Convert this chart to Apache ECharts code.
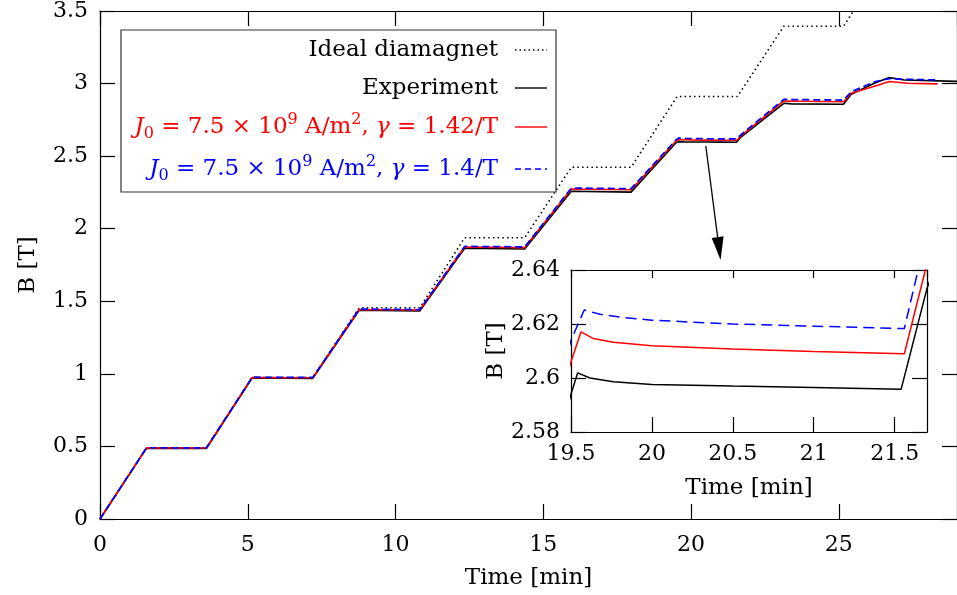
<!DOCTYPE html>
<html>
<head>
<meta charset="utf-8">
<script src="https://cdn.jsdelivr.net/npm/echarts@6/dist/echarts.min.js"></script>
<style>
html,body{margin:0;padding:0;background:#fff;}
#chart{width:957px;height:595px;}
</style>
</head>
<body>
<div id="chart"></div>
<script>
// ---- data ----
const idealT = [0, 1.575, 3.6, 5.15, 7.2, 8.77, 10.82, 12.34, 14.37, 15.95, 17.97, 19.53, 21.57, 23.14, 25.16, 26.71];
const idealB = [0, 0.49, 0.49, 0.975, 0.975, 1.455, 1.455, 1.938, 1.938, 2.423, 2.423, 2.911, 2.911, 3.395, 3.395, 3.88];

const expT = [0, 1.575, 3.6, 5.15, 7.2, 8.77, 10.82, 12.34, 14.37, 15.95, 17.97, 19.5, 19.541, 19.617, 19.761, 20.0, 20.5, 21.0, 21.54, 21.7, 23.14, 23.4, 25.16, 25.42, 26.2, 26.71, 27.22, 29];
const expB = [0, 0.488, 0.486, 0.972, 0.969, 1.438, 1.433, 1.866, 1.860, 2.258, 2.252, 2.594, 2.6019, 2.6000, 2.5986, 2.5976, 2.597, 2.5965, 2.5958, 2.6332, 2.864, 2.860, 2.858, 2.927, 3.002, 3.041, 3.025, 3.015];

const redT = [0, 1.575, 3.6, 5.15, 7.2, 8.77, 10.82, 12.34, 14.37, 15.95, 17.97, 19.5, 19.562, 19.638, 19.761, 20.0, 20.5, 21.0, 21.56, 21.69, 23.14, 25.16, 25.42, 26.32, 26.71, 27.33, 28.34];
const redB = [0, 0.49, 0.489, 0.975, 0.973, 1.443, 1.440, 1.874, 1.870, 2.274, 2.268, 2.606, 2.6171, 2.6146, 2.6132, 2.6119, 2.6107, 2.6098, 2.609, 2.64, 2.880, 2.875, 2.934, 2.989, 3.014, 3.002, 2.998];

const blueT = [0, 1.575, 3.6, 5.15, 7.2, 8.77, 10.82, 12.34, 14.37, 15.95, 17.97, 19.5, 19.582, 19.679, 19.823, 20.0, 20.5, 21.0, 21.56, 21.645, 23.14, 25.16, 25.42, 26.2, 26.71, 27.22, 28.27];
const blueB = [0, 0.491, 0.49, 0.977, 0.975, 1.446, 1.443, 1.878, 1.875, 2.28, 2.276, 2.614, 2.6252, 2.6236, 2.6224, 2.6214, 2.620, 2.6192, 2.6183, 2.64, 2.891, 2.886, 2.943, 3.012, 3.034, 3.03, 3.025];

const mainXTicks = {min: 0, max: 29, interval: 5};
const mainYTicks = {min: 0, max: 3.5, interval: 0.5};
const insetXTicks = {min: 19.5, max: 21.7, interval: 0.5};
const insetYTicks = {min: 2.58, max: 2.64, interval: 0.02};

const legendNames = ['Ideal diamagnet', 'Experiment', 'J0=7.5×10^9 A/m^2, γ=1.42/T', 'J0=7.5×10^9 A/m^2, γ=1.4/T'];
const arrowFrom = [20.5, 2.57];
const arrowTo = [21.0, 1.785];

// ---- helpers ----
const FONT = 'DejaVu Serif';
const zip = (a, b) => a.map((v, i) => [v, b[i]]);

function axisCommon(extra, showLabel, tickLen, showMax, margin) {
  return Object.assign({
    type: 'value',
    axisLine: {show: true, onZero: false, lineStyle: {color: '#000', width: 1.2}},
    axisTick: {show: true, inside: true, length: tickLen, lineStyle: {color: '#000', width: 1.2}},
    splitLine: {show: false},
    axisLabel: {show: showLabel, color: '#000', fontFamily: FONT, fontSize: 22, showMaxLabel: showMax !== false, margin: margin || 8},
    nameTextStyle: {color: '#000', fontFamily: FONT, fontSize: 23}
  }, extra);
}

const chart = echarts.init(document.getElementById('chart'), null, {renderer: 'canvas'});

const option = {
  animation: false,
  backgroundColor: '#fff',
  grid: [
    {left: 100, width: 859, top: 8, bottom: 76, containLabel: false},
    {left: 571, top: 270, width: 356, height: 162, show: true, backgroundColor: '#fff', borderWidth: 0, containLabel: false}
  ],
  xAxis: [
    axisCommon(Object.assign({gridIndex: 0, position: 'bottom', name: 'Time [min]', nameLocation: 'middle', nameGap: 48}, mainXTicks), true, 15, false, 15),
    axisCommon(Object.assign({gridIndex: 0, position: 'top'}, mainXTicks), false, 15),
    axisCommon(Object.assign({gridIndex: 1, position: 'bottom', name: 'Time [min]', nameLocation: 'middle', nameGap: 45}, insetXTicks), true, 15, false, 11),
    axisCommon(Object.assign({gridIndex: 1, position: 'top'}, insetXTicks), false, 8)
  ],
  yAxis: [
    axisCommon(Object.assign({gridIndex: 0, position: 'left', name: 'B [T]', nameLocation: 'middle', nameGap: 60}, mainYTicks), true, 15, true, 12),
    axisCommon(Object.assign({gridIndex: 0, position: 'right'}, mainYTicks), false, 15),
    axisCommon(Object.assign({gridIndex: 1, position: 'left', name: 'B [T]', nameLocation: 'middle', nameGap: 62}, insetYTicks), true, 15, true, 11),
    axisCommon(Object.assign({gridIndex: 1, position: 'right'}, insetYTicks), false, 15)
  ],
  series: [
    {name: legendNames[0], type: 'line', xAxisIndex: 0, yAxisIndex: 0, data: zip(idealT, idealB), symbol: 'none', clip: true,
     lineStyle: {color: '#000', width: 1.6, type: [1.5, 3.2]}},
    {name: legendNames[1], type: 'line', xAxisIndex: 0, yAxisIndex: 0, data: zip(expT, expB), symbol: 'none', clip: true,
     lineStyle: {color: '#000', width: 1.6}},
    {name: legendNames[2], type: 'line', xAxisIndex: 0, yAxisIndex: 0, data: zip(redT, redB), symbol: 'none', clip: true,
     lineStyle: {color: '#ff0000', width: 1.6}},
    {name: legendNames[3], type: 'line', xAxisIndex: 0, yAxisIndex: 0, data: zip(blueT, blueB), symbol: 'none', clip: true,
     lineStyle: {color: '#0000ff', width: 1.7, type: [7, 4]}},
    {name: legendNames[1] + ' (inset)', type: 'line', xAxisIndex: 2, yAxisIndex: 2, data: zip(expT, expB), symbol: 'none', clip: true,
     lineStyle: {color: '#000', width: 1.5}},
    {name: legendNames[2] + ' (inset)', type: 'line', xAxisIndex: 2, yAxisIndex: 2, data: zip(redT, redB), symbol: 'none', clip: true,
     lineStyle: {color: '#ff0000', width: 1.5}},
    {name: legendNames[3] + ' (inset)', type: 'line', xAxisIndex: 2, yAxisIndex: 2, data: zip(blueT, blueB), symbol: 'none', clip: true,
     lineStyle: {color: '#0000ff', width: 1.5, type: [11, 6]}}
  ]
};
chart.setOption(option);

// ---- legend (drawn as graphic: text right-aligned, sample on the right) ----
function richFor(color) {
  return {
    n: {fill: color, fontFamily: FONT, fontSize: 23, lineHeight: 30, verticalAlign: 'middle'},
    it: {fill: color, fontFamily: FONT, fontSize: 23, fontStyle: 'italic', lineHeight: 30, verticalAlign: 'middle'},
    sup: {fill: color, fontFamily: FONT, fontSize: 16, lineHeight: 16, verticalAlign: 'top'},
    sub: {fill: color, fontFamily: FONT, fontSize: 16, lineHeight: 16, verticalAlign: 'bottom'}
  };
}
function modelText(gamma) {
  return '{it|J}{sub|0}{n| = 7.5 × 10}{sup|9}{n| A/m}{sup|2}{n|, }{it|γ}{n| = ' + gamma + '/T}';
}
const rowY = [50, 88, 127, 169];
const legendRows = [
  {text: '{n|Ideal diamagnet}', color: '#000', line: {stroke: '#000', lineWidth: 1.4, lineDash: [1.5, 3]}},
  {text: '{n|Experiment}', color: '#000', line: {stroke: '#000', lineWidth: 1.4}},
  {text: modelText('1.42'), color: '#ff0000', line: {stroke: '#ff0000', lineWidth: 1.4}},
  {text: modelText('1.4'), color: '#0000ff', line: {stroke: '#0000ff', lineWidth: 1.4, lineDash: [6, 4]}}
];

const graphics = [
  {type: 'rect', z: 100, shape: {x: 121, y: 30, width: 435, height: 162}, style: {fill: '#fff', stroke: '#333', lineWidth: 1.2}}
];
legendRows.forEach((r, i) => {
  graphics.push({type: 'text', z: 101, x: 498, y: rowY[i],
    style: {text: r.text, rich: richFor(r.color), align: 'right', verticalAlign: 'middle', fill: r.color, fontFamily: FONT, fontSize: 23}});
  graphics.push({type: 'line', z: 101, shape: {x1: 515, y1: rowY[i], x2: 547, y2: rowY[i]}, style: r.line});
});

// arrow from main-plot plateau toward the inset
const p0 = chart.convertToPixel({gridIndex: 0}, arrowFrom);
const p1 = chart.convertToPixel({gridIndex: 0}, arrowTo);
const dx = p1[0] - p0[0], dy = p1[1] - p0[1];
const L = Math.sqrt(dx * dx + dy * dy);
const ux = dx / L, uy = dy / L, nx = -uy, ny = ux;
const headLen = 23, headHalf = 6;
const bx = p1[0] - ux * headLen, by = p1[1] - uy * headLen;
graphics.push({type: 'line', z: 50, shape: {x1: p0[0], y1: p0[1], x2: bx, y2: by}, style: {stroke: '#000', lineWidth: 1.3}});
graphics.push({type: 'polygon', z: 50, shape: {points: [[p1[0], p1[1]], [bx + nx * headHalf, by + ny * headHalf], [bx - nx * headHalf, by - ny * headHalf]]}, style: {fill: '#000'}});

chart.setOption({graphic: graphics});
</script>
</body>
</html>
